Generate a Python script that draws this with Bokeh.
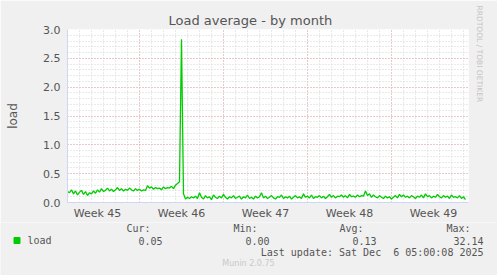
from bokeh.plotting import figure
from bokeh.layouts import column
from bokeh.models import (Range1d, FixedTicker, Label, Title, ColumnDataSource)
from bokeh.embed import file_html
from bokeh.resources import INLINE

# ---- data ----
step_hours = 4
load = [
    0.19, 0.17, 0.22, 0.15, 0.20, 0.13, 0.18, 0.21, 0.14, 0.19,
    0.12, 0.17, 0.15, 0.20, 0.16, 0.22, 0.18, 0.24, 0.19, 0.21,
    0.25, 0.20, 0.23, 0.19, 0.22, 0.26, 0.21, 0.24, 0.20, 0.23,
    0.21, 0.25, 0.22, 0.20, 0.24, 0.21, 0.23, 0.20, 0.22, 0.21,
    0.29, 0.25, 0.27, 0.23, 0.26, 0.24, 0.25, 0.22, 0.27, 0.24,
    0.26, 0.25, 0.28, 0.24, 0.30, 0.33, 0.36,
    2.83,
    0.15, 0.06, 0.09, 0.07, 0.10, 0.08, 0.11, 0.07, 0.17, 0.09,
    0.06, 0.12, 0.08, 0.10, 0.05, 0.13, 0.09, 0.07, 0.11, 0.08,
    0.14, 0.09, 0.06, 0.10, 0.08, 0.12, 0.07, 0.09, 0.11, 0.06,
    0.10, 0.08, 0.13, 0.07, 0.09, 0.06, 0.11, 0.08, 0.10, 0.17,
    0.08, 0.11, 0.07, 0.09, 0.12, 0.08, 0.06, 0.10, 0.09, 0.13,
    0.07, 0.10, 0.08, 0.11, 0.06, 0.09, 0.12, 0.08, 0.10, 0.07,
    0.15, 0.09, 0.11, 0.08, 0.13, 0.07, 0.10, 0.09, 0.12, 0.08,
    0.11, 0.07, 0.10, 0.14, 0.09, 0.12, 0.08, 0.11, 0.10, 0.13,
    0.09, 0.12, 0.08, 0.14, 0.10, 0.11, 0.09, 0.13, 0.10, 0.12,
    0.11, 0.20, 0.12, 0.15, 0.09, 0.13, 0.10, 0.08, 0.12, 0.09,
    0.07, 0.11, 0.08, 0.10, 0.06, 0.09, 0.12, 0.08, 0.14, 0.10,
    0.13, 0.09, 0.11, 0.08, 0.12, 0.10, 0.07, 0.11, 0.09, 0.13,
    0.08, 0.15, 0.10, 0.12, 0.08, 0.11, 0.09, 0.14, 0.10, 0.08,
    0.12, 0.09, 0.11, 0.07, 0.13, 0.09, 0.10, 0.08, 0.12, 0.07, 0.10, 0.05,
]
days = [i * step_hours / 24.0 for i in range(len(load))]

week_labels = ["Week 45", "Week 46", "Week 47", "Week 48", "Week 49"]
week_label_days = [2.5, 9.5, 16.5, 23.5, 30.5]
week_start_days = [6, 13, 20, 27]
y_ticks = [0.0, 0.5, 1.0, 1.5, 2.0, 2.5, 3.0]
legend_name = "load"
stat_names = ["Cur:", "Min:", "Avg:", "Max:"]
stat_values = ["0.05", "0.00", "0.13", "32.14"]
last_update = "Last update: Sat Dec \u00a06 05:00:08 2025"
title_text = "Load average - by month"

# ---- layout ----
W = 497
H1, H2 = 222, 53
L, R, T, B = 67, 29, 29, 19
XMAX = 33.42
YMAX = 3.0

AXIS = "#CFD6F8"
FONT = "#555555"
GREEN = "#00CC00"
BG = "#F0F0F0"

p = figure(width=W, height=H1, output_backend="svg", toolbar_location=None,
           x_range=Range1d(0, XMAX), y_range=Range1d(0, YMAX),
           min_border_left=L, min_border_right=R, min_border_top=T, min_border_bottom=B,
           background_fill_color="white", border_fill_color=BG,
           outline_line_color=None)
p.frame_align = False

# title (above) and watermark (right)
p.title.text = title_text
p.title.align = "left"
p.title.offset = 101
p.title.standoff = 4
p.title.text_font = "DejaVu Sans"
p.title.text_font_size = "13px"
p.title.text_font_style = "normal"
p.title.text_color = FONT
p.add_layout(Title(text="RRDTOOL / TOBI OETIKER", align="left", standoff=13,
                   offset=-24,
                   text_font="DejaVu Sans", text_font_size="7.5px",
                   text_font_style="normal", text_color="#C4C4C4"), "right")

# grids
p.xgrid.ticker = FixedTicker(ticks=week_start_days, minor_ticks=list(range(0, 34)))
p.ygrid.ticker = FixedTicker(ticks=y_ticks, minor_ticks=[i / 10 for i in range(31)])
for g in (p.xgrid, p.ygrid):
    g.grid_line_color = "#E8A8A8"
    g.grid_line_dash = "1 2"
    g.grid_line_width = 1
    g.minor_grid_line_color = "#D4D4D4"
    g.minor_grid_line_dash = "1 2"
    g.minor_grid_line_width = 1

# axes
p.yaxis.ticker = FixedTicker(ticks=y_ticks)
p.yaxis.major_label_overrides = {t: f"{t:.1f}" for t in y_ticks}
p.xaxis.ticker = FixedTicker(ticks=week_label_days)
p.xaxis.major_label_overrides = {d: lbl for d, lbl in zip(week_label_days, week_labels)}
for ax in (p.xaxis, p.yaxis):
    ax.axis_line_color = AXIS
    ax.major_tick_line_color = None
    ax.minor_tick_line_color = None
    ax.major_tick_out = 0
    ax.major_tick_in = 0
    ax.minor_tick_out = 0
    ax.minor_tick_in = 0
    ax.major_label_text_font = "DejaVu Sans"
    ax.major_label_text_font_size = "11px"
    ax.major_label_text_color = FONT
p.yaxis.major_label_standoff = 7
p.xaxis.major_label_standoff = 4
p.yaxis.axis_label = "load"
p.yaxis.axis_label_text_font = "DejaVu Sans"
p.yaxis.axis_label_text_font_size = "12px"
p.yaxis.axis_label_text_font_style = "normal"
p.yaxis.axis_label_text_color = FONT
p.yaxis.axis_label_standoff = 20

# data
src = ColumnDataSource(dict(day=days, load=load))
p.line("day", "load", source=src, line_color=GREEN, line_width=1.3)

# ---- legend / footer panel (pixel coordinates, y grows downward) ----
Y0 = H1
q = figure(width=W, height=H2, output_backend="svg", toolbar_location=None,
           x_range=Range1d(0, W), y_range=Range1d(Y0 + H2, Y0),
           x_axis_type=None, y_axis_type=None,
           min_border=0, min_border_left=0, min_border_right=0,
           min_border_top=0, min_border_bottom=0,
           background_fill_color=BG, border_fill_color=BG, outline_line_color=None)
q.frame_align = False
q.xgrid.visible = False
q.ygrid.visible = False

MONO = "DejaVu Sans Mono"
def lab(x, y, text, align, font=MONO, size="10px", color=FONT):
    q.add_layout(Label(x=x, y=y, text=text, text_align=align, text_baseline="middle",
                       text_font=font, text_font_size=size, text_color=color))

q.scatter([16.5], [240], marker="square", size=6, fill_color=GREEN, line_color=GREEN)
lab(27, 240, legend_name, "left")
name_right = [150, 257, 363, 470]
val_right = [162, 269, 376, 483]
for nm, vl, nx, vx in zip(stat_names, stat_values, name_right, val_right):
    lab(nx, 228, nm, "right")
    lab(vx, 240, vl, "right")
lab(483, 252, last_update, "right")
lab(248, 263, "Munin 2.0.75", "center", font="DejaVu Sans", size="8px", color="#C8C8C8")

layout = column(p, q, spacing=0)
open("out.html", "w").write(file_html(layout, INLINE))
